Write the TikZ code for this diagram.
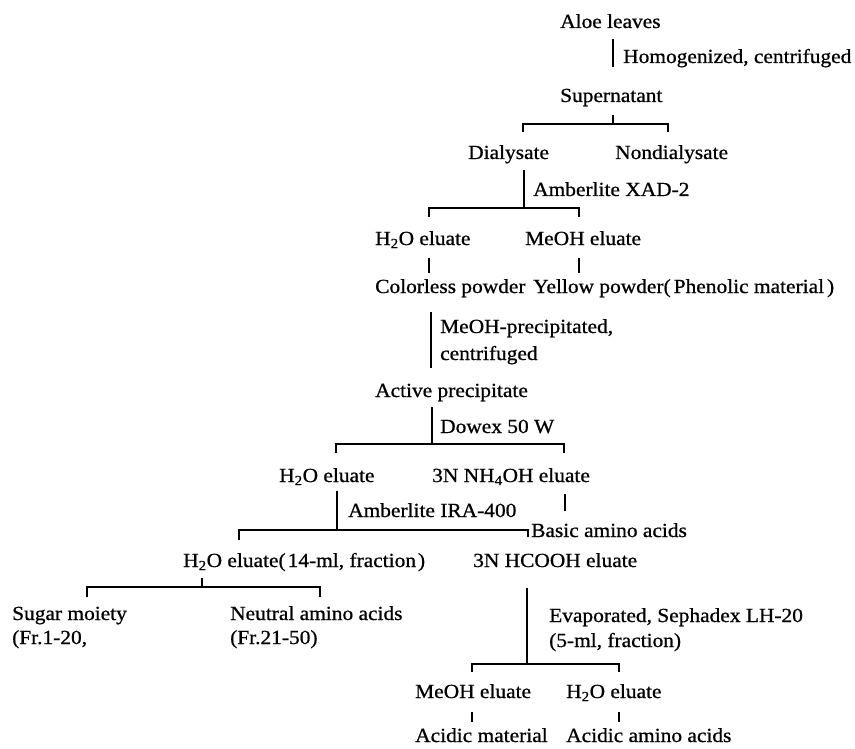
\documentclass[tikz,border=0pt]{standalone}
\usepackage{fontspec}
\setmainfont{Liberation Serif}[FakeStretch=1.07,FakeBold=0.8]
\begin{document}
\begin{tikzpicture}[x=1pt,y=-1pt,
  lbl/.style={anchor=base west, inner sep=0pt, text height=14pt, text depth=4pt,
              font=\fontsize{20}{24}\selectfont},
  ln/.style={line width=1.6pt, line cap=butt}]
\useasboundingbox[fill=white] (0,0) rectangle (855,749);

% ---- text nodes ----
\node[lbl] (aloe)      at (560,28)  {Aloe leaves};
\node[lbl] (hom)       at (623,63)  {Homogenized, centrifuged};
\node[lbl] (sup)       at (560,102) {Supernatant};
\node[lbl] (dia)       at (468,159) {Dialysate};
\node[lbl] (nondia)    at (615,159) {Nondialysate};
\node[lbl] (xad)       at (533,196) {Amberlite XAD-2};
\node[lbl] (h2oa)      at (375,245) {H\textsubscript{2}O eluate};
\node[lbl] (meoha)     at (525,245) {MeOH eluate};
\node[lbl] (colorless) at (375,293) {Colorless powder};
\node[lbl] (yellow)    at (533,293) {Yellow powder(\kern3pt Phenolic material\kern3pt)};
\node[lbl] (meohp)     at (440,333) {MeOH-precipitated,};
\node[lbl] (centr)     at (440,360) {centrifuged};
\node[lbl] (active)    at (375,397) {Active precipitate};
\node[lbl] (dowex)     at (440,433) {Dowex 50 W};
\node[lbl] (h2ob)      at (279,482) {H\textsubscript{2}O eluate};
\node[lbl] (nh4oh)     at (432,482) {3N NH\textsubscript{4}OH eluate};
\node[lbl] (ira)       at (348,517) {Amberlite IRA-400};
\node[lbl] (basic)     at (531,537) {Basic amino acids};
\node[lbl] (h2oc)      at (183,567) {H\textsubscript{2}O eluate(\kern2pt 14-ml, fraction\kern2pt)};
\node[lbl] (hcooh)     at (473,567) {3N HCOOH eluate};
\node[lbl] (sugar)     at (12,620)  {Sugar moiety};
\node[lbl] (fra)       at (12,644)  {(Fr.1-20,};
\node[lbl] (neutral)   at (230,620) {Neutral amino acids};
\node[lbl] (frb)       at (230,644) {(Fr.21-50)};
\node[lbl] (evap)      at (549,622) {Evaporated, Sephadex LH-20};
\node[lbl] (mlfive)    at (549,647) {(5-ml, fraction)};
\node[lbl] (meohb)     at (415,698) {MeOH eluate};
\node[lbl] (h2od)      at (566,698) {H\textsubscript{2}O eluate};
\node[lbl] (acidm)     at (415,742) {Acidic material};
\node[lbl] (acida)     at (566,742) {Acidic amino acids};

% ---- junction coordinates ----
\coordinate (j1)  at (613,124);
\coordinate (b1l) at (523,124);
\coordinate (b1r) at (668,124);
\coordinate (j2)  at (524,208);
\coordinate (b2l) at (429,208);
\coordinate (b2r) at (579,208);
\coordinate (j3)  at (431,368);
\coordinate (j4)  at (432,444);
\coordinate (b4l) at (336,444);
\coordinate (b4r) at (564,444);
\coordinate (j5)  at (337,530);
\coordinate (b5l) at (239,530);
\coordinate (b5r) at (528,530);
\coordinate (t5)  at (565,511);
\coordinate (j6)  at (202,587);
\coordinate (b6l) at (87,587);
\coordinate (b6r) at (320,587);
\coordinate (j7)  at (527,664);
\coordinate (b7l) at (472,664);
\coordinate (b7r) at (619,664);

% ---- connectors ----
\draw[ln] (aloe.south -| j1) ++(0,7) -- ++(0,28);
\draw[ln] (sup.south -| j1) ++(0,9) -- (j1);
\draw[ln] (b1l |- dia.north) ++(0,-13) -- (b1l) -- (b1r) -- ++(0,8);

\draw[ln] (dia.south -| j2) ++(0,7) -- (j2);
\draw[ln] (b2l |- h2oa.north) ++(0,-14) -- (b2l) -- (b2r) -- ++(0,9);

\draw[ln] (h2oa.south -| b2l) ++(0,9) -- ++(0,15);
\draw[ln] (meoha.south -| b2r) ++(0,9) -- ++(0,15);

\draw[ln] (colorless.south -| j3) ++(0,15) -- (j3);

\draw[ln] (active.south -| j4) ++(0,6) -- (j4);
\draw[ln] (b4l |- h2ob.north) ++(0,-15) -- (b4l) -- (b4r) -- ++(0,9);

\draw[ln] (h2ob.south -| j5) ++(0,5) -- (j5);
\draw[ln] (b5l |- h2oc.north) ++(0,-13) -- (b5l) -- (b5r) -- ++(0,7);
\draw[ln] (nh4oh.south -| t5) ++(0,8) -- (t5);

\draw[ln] (h2oc.south -| j6) ++(0,7) -- (j6);
\draw[ln] (b6l |- sugar.north) ++(0,-9) -- (b6l) -- (b6r) -- ++(0,10);

\draw[ln] (hcooh.south -| j7) ++(0,17) -- (j7);
\draw[ln] (b7l |- meohb.north) ++(0,-12) -- (b7l) -- (b7r) -- ++(0,8);

\draw[ln] (meohb.south -| b7l) ++(0,10) -- ++(0,10);
\draw[ln] (h2od.south -| b7r) ++(0,10) -- ++(0,10);
\end{tikzpicture}
\end{document}
